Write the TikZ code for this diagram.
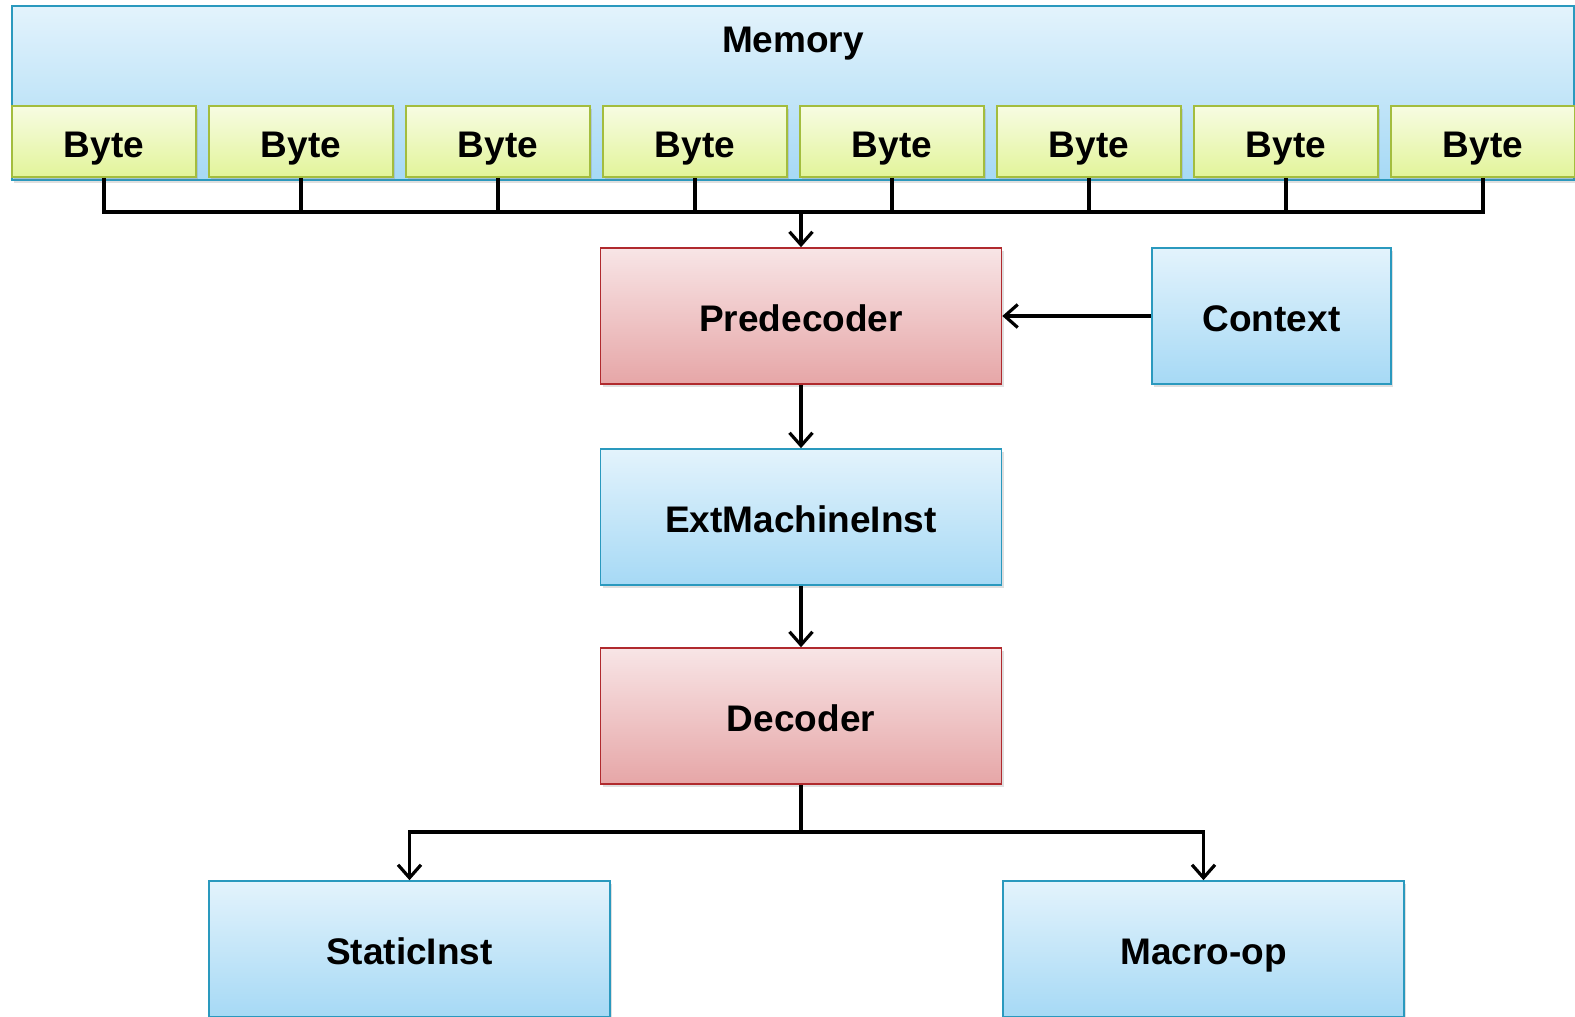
\documentclass[tikz,border=0pt]{standalone}
\usepackage{fontspec}
\setmainfont{Liberation Sans}
\usetikzlibrary{arrows.meta,shadows}
\definecolor{bluetop}{HTML}{E3F3FC}
\definecolor{bluebot}{HTML}{A6D9F5}
\definecolor{blueline}{HTML}{2A99BE}
\definecolor{redtop}{HTML}{F8E5E6}
\definecolor{redbot}{HTML}{E6A6A7}
\definecolor{redline}{HTML}{B02A2E}
\definecolor{grntop}{HTML}{F7FCE2}
\definecolor{grnbot}{HTML}{E2F49A}
\definecolor{grnline}{HTML}{A3BD3E}
\tikzset{
  txt/.style={font=\fontsize{37}{42}\selectfont\bfseries, text height=31.6pt, text depth=0pt},
  box/.style={rectangle, line width=1.6pt, inner sep=0pt, txt,
    drop shadow={shadow xshift=2pt, shadow yshift=-3pt, opacity=0.25}},
  bluebox/.style={box, draw=blueline, top color=bluetop, bottom color=bluebot},
  redbox/.style={box, draw=redline, top color=redtop, bottom color=redbot},
  bytebox/.style={box, draw=grnline, top color=grntop, bottom color=grnbot,
    minimum width=184pt, minimum height=71pt},
  bigbox/.style={minimum width=401pt, minimum height=136pt},
  conn/.style={line width=3.2pt, line join=miter},
  arr/.style={conn, -{Straight Barb[length=13pt,width=23pt,line width=3.2pt]}},
  lbl/.style={txt, inner sep=0pt}
}
\begin{document}
\begin{tikzpicture}[x=1pt,y=-1pt]
\useasboundingbox (0,0) rectangle (1575,1017);
\clip (0,0) rectangle (1575,1017);
\node[bluebox, minimum width=1562pt, minimum height=174pt] (mem) at (793,93) {};
\node[lbl] (memtxt) at (793,37) {Memory};
\foreach \i in {1,...,8}{
  \node[bytebox] (b\i) at ({104+197*(\i-1)},141.5) {Byte};
}
\coordinate (bus) at (0,212);
\coordinate (br) at (0,832);
\node[redbox, bigbox] (pre) at (801,316) {Predecoder};
\node[bluebox, minimum width=239pt, minimum height=136pt] (ctx) at (1271.5,316) {Context};
\node[bluebox, bigbox] (ext) at (801,517) {ExtMachineInst};
\node[redbox, bigbox] (dec) at (801,716) {Decoder};
\node[bluebox, bigbox] (si) at (409.5,949) {StaticInst};
\node[bluebox, bigbox] (mo) at (1203.5,949) {Macro-op};
% bus
\draw[conn] (b1.south) |- (b8.south |- bus) -- (b8.south);
\foreach \i in {2,...,7}{
  \draw[conn] (b\i.south) -- (b\i.south |- bus);
}
\draw[arr] (pre.north |- bus) -- (pre.north);
\draw[arr] (ctx.west) -- (pre.east);
\draw[arr] (pre.south) -- (ext.north);
\draw[arr] (ext.south) -- (dec.north);
\draw[conn] (dec.south) -- (dec.south |- br);
\draw[arr] (dec.south |- br) -| (si.north);
\draw[arr] (dec.south |- br) -| (mo.north);
\end{tikzpicture}
\end{document}
